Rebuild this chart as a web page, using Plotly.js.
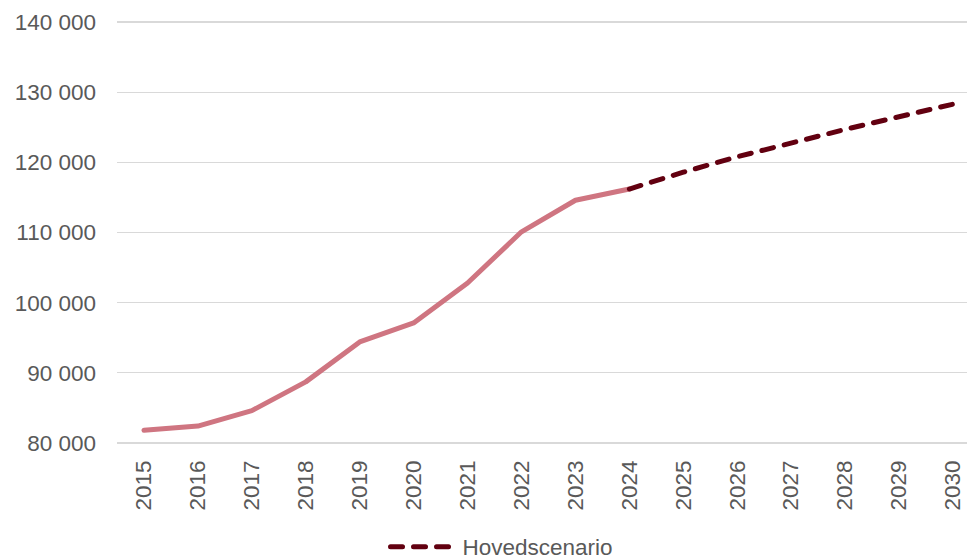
<!DOCTYPE html>
<html>
<head>
<meta charset="utf-8">
<script src="https://cdn.plot.ly/plotly-3.0.1.min.js"></script>
<style>
html,body{margin:0;padding:0;background:#fff;}
#chart{width:967px;height:559px;}
.js-line{stroke-linecap:round;stroke-linejoin:round;}
</style>
</head>
<body>
<div id="chart"></div>
<script>
const years = ['2015','2016','2017','2018','2019','2020','2021','2022','2023','2024','2025','2026','2027','2028','2029','2030'];
const histYears = ['2015','2016','2017','2018','2019','2020','2021','2022','2023','2024'];
const histValues = [81800, 82400, 84600, 88700, 94400, 97100, 102800, 110100, 114600, 116200];
const scenYears = ['2024','2025','2026','2027','2028','2029','2030'];
const scenValues = [116200, 118600, 120800, 122800, 124700, 126500, 128300];
const yTicks = [80000, 90000, 100000, 110000, 120000, 130000, 140000];
const yTickLabels = ['80 000','90 000','100 000','110 000','120 000','130 000','140 000'];

const font = {family: 'Arial, "Liberation Sans", sans-serif', size: 22.5, color: '#595959'};

const traces = [
  {x: histYears, y: histValues, type: 'scatter', mode: 'lines', showlegend: false,
   line: {color: '#CF7581', width: 5}, hoverinfo: 'skip'},
  {x: scenYears, y: scenValues, type: 'scatter', mode: 'lines', name: 'Hovedscenario',
   line: {color: '#620010', width: 5, dash: '12px,11px'}, hoverinfo: 'skip'}
];

const layout = {
  width: 967, height: 559,
  margin: {l: 117, r: 0, t: 20, b: 114, autoexpand: false},
  paper_bgcolor: '#fff', plot_bgcolor: '#fff',
  font: font,
  xaxis: {type: 'category', categoryorder: 'array', categoryarray: years,
    range: [-0.5, 15.26], tickangle: -90, showgrid: false, zeroline: false,
    showline: false, ticks: '', ticklabelstandoff: 10, tickfont: font, fixedrange: true,
    automargin: false},
  yaxis: {range: [79700, 140300], tickvals: yTicks, ticktext: yTickLabels,
    showgrid: true, gridcolor: '#d9d9d9', gridwidth: 1.3, zeroline: false,
    showline: false, ticks: '', ticklabelstandoff: 20, tickfont: font, fixedrange: true,
    automargin: false},
  showlegend: true,
  legend: {orientation: 'h', x: 0.3159, xanchor: 'left', y: -0.24, yanchor: 'middle',
    itemwidth: 67, font: font, bgcolor: 'rgba(0,0,0,0)'}
};

Plotly.newPlot('chart', traces, layout, {staticPlot: true, displayModeBar: false});
</script>
</body>
</html>
